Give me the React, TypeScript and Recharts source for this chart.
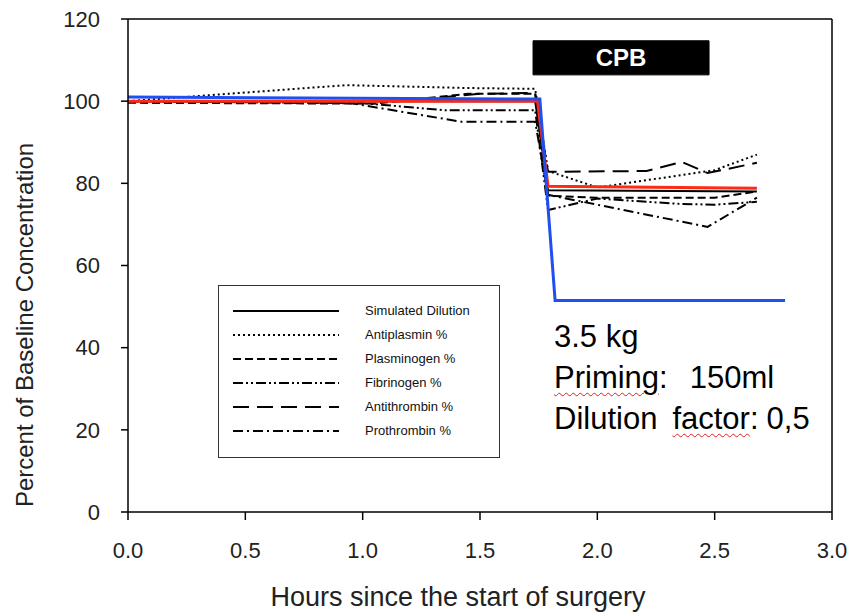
import { LineChart, Line, XAxis, YAxis, ReferenceLine, ReferenceArea } from "recharts";

// Plasma protein levels vs simulated dilution around cardiopulmonary bypass.
// Values: [hours, percent of baseline].
const xTicks = [0, 0.5, 1, 1.5, 2, 2.5, 3];
const yTicks = [0, 20, 40, 60, 80, 100, 120];

const simulatedDilution = [[0, 100], [1.735, 100], [1.79, 78.3], [2.68, 78]];
const antiplasmin = [[0, 100], [0.93, 103.9], [1.45, 103.2], [1.735, 103], [1.79, 83], [2.0, 79], [2.5, 83.2], [2.68, 87]];
const plasminogen = [[0, 99.6], [1.05, 99.4], [1.45, 101.8], [1.735, 101.8], [1.79, 77], [2.0, 76.5], [2.5, 76.5], [2.68, 78]];
const fibrinogen = [[0, 100], [1.0, 99.5], [1.35, 97.8], [1.735, 97.8], [1.79, 73.5], [2.0, 76.3], [2.35, 75], [2.5, 74.8], [2.68, 75.5]];
const antithrombin = [[0, 100], [1.15, 100], [1.5, 101.8], [1.735, 102], [1.79, 82.8], [2.21, 83], [2.36, 85.2], [2.47, 82.5], [2.68, 85]];
const prothrombin = [[0, 100], [0.95, 99.5], [1.42, 95], [1.735, 95], [1.79, 77.2], [2.47, 69.4], [2.68, 76.5]];
const measuredMean = [[0, 100], [1.745, 100], [1.79, 79.3], [2.68, 78.8]];
const modelDilution = [[0, 101], [1.755, 100.5], [1.82, 51.5], [2.8, 51.5]];

const cpbWindow = { x1: 1.726, x2: 2.476, y1: 106.4, y2: 114.7 };

const toRows = (pts: number[][]) => pts.map(([t, v]) => ({ t, v }));

const FONT = "'Liberation Sans', Arial, sans-serif";

const blackSeries = [
  { name: "Simulated Dilution", pts: simulatedDilution, dash: undefined },
  { name: "Antiplasmin %", pts: antiplasmin, dash: "2 3" },
  { name: "Plasminogen %", pts: plasminogen, dash: "8 4" },
  { name: "Fibrinogen %", pts: fibrinogen, dash: "10 3 2 3 2 3" },
  { name: "Antithrombin %", pts: antithrombin, dash: "16 8" },
  { name: "Prothrombin %", pts: prothrombin, dash: "10 4 2 4" },
];

function LegendBox() {
  return (
    <div
      style={{
        position: "absolute",
        left: 218,
        top: 285,
        width: 282,
        height: 173,
        border: "1.5px solid #333",
        boxSizing: "border-box",
        background: "#fff",
        fontFamily: FONT,
        fontSize: 13,
        color: "#111",
      }}
    >
      {blackSeries.map((s, i) => (
        <div key={s.name} style={{ position: "absolute", left: 0, top: 17 + i * 24, height: 16, width: 280 }}>
          <svg width={120} height={16} style={{ position: "absolute", left: 12, top: 0 }}>
            <line x1={2} y1={8} x2={108} y2={8} stroke="#000" strokeWidth={2} strokeDasharray={s.dash} />
          </svg>
          <span style={{ position: "absolute", left: 146, top: 0, lineHeight: "16px", whiteSpace: "nowrap" }}>
            {s.name}
          </span>
        </div>
      ))}
    </div>
  );
}

const squiggle = { textDecoration: "underline wavy #e02020", textDecorationThickness: "1px", textUnderlineOffset: "4px" };

export default function App() {
  return (
    <div style={{ position: "absolute", left: 0, top: 0, width: 849, height: 615, background: "#fff" }}>
      <LineChart
        width={849}
        height={615}
        margin={{ top: 19, right: 17, left: 0, bottom: 0 }}
        style={{ fontFamily: FONT }}
      >
        <XAxis
          type="number"
          dataKey="t"
          domain={[0, 3]}
          ticks={xTicks}
          tickFormatter={(v: number) => v.toFixed(1)}
          height={103}
          tickSize={8}
          tickMargin={22}
          axisLine={{ stroke: "#000", strokeWidth: 1.5 }}
          tickLine={{ stroke: "#000", strokeWidth: 1.5 }}
          tick={{ fill: "#222", fontSize: 22 }}
          allowDuplicatedCategory={false}
        />
        <YAxis
          type="number"
          domain={[0, 120]}
          ticks={yTicks}
          width={128}
          tickSize={7}
          tickMargin={21}
          axisLine={{ stroke: "#000", strokeWidth: 1.5 }}
          tickLine={{ stroke: "#000", strokeWidth: 1.5 }}
          tick={{ fill: "#222", fontSize: 22 }}
        />
        <ReferenceLine y={120} stroke="#000" strokeWidth={1.5} ifOverflow="visible" />
        <ReferenceLine x={3} stroke="#000" strokeWidth={1.5} ifOverflow="visible" />
        <ReferenceArea
          {...cpbWindow}
          fill="#000"
          fillOpacity={1}
          stroke="#000"
          ifOverflow="visible"
          label={{ value: "CPB", fill: "#fff", fontSize: 24, fontWeight: 700, position: "center" }}
        />
        {blackSeries.map((s) => (
          <Line
            key={s.name}
            data={toRows(s.pts)}
            dataKey="v"
            type="linear"
            stroke="#000"
            strokeWidth={2}
            strokeDasharray={s.dash}
            dot={false}
            isAnimationActive={false}
          />
        ))}
        <Line data={toRows(measuredMean)} dataKey="v" type="linear" stroke="#ff2a14" strokeWidth={3} dot={false} isAnimationActive={false} />
        <Line data={toRows(modelDilution)} dataKey="v" type="linear" stroke="#1f4ff0" strokeWidth={3} dot={false} isAnimationActive={false} />
      </LineChart>

      <LegendBox />

      <div
        style={{
          position: "absolute",
          left: 554,
          top: 316,
          fontFamily: FONT,
          fontSize: 31,
          lineHeight: "41px",
          color: "#000",
          whiteSpace: "pre",
        }}
      >
        <div>3.5 kg</div>
        <div>
          <span style={squiggle}>Priming</span>:<span style={{ marginLeft: 22 }}>150ml</span>
        </div>
        <div>
          Dilution<span style={{ marginLeft: 15, ...squiggle }}>factor</span>:<span style={{ marginLeft: 8 }}>0,5</span>
        </div>
      </div>

      <div
        style={{
          position: "absolute",
          left: 158,
          top: 582,
          width: 600,
          textAlign: "center",
          fontFamily: FONT,
          fontSize: 27,
          color: "#222",
          whiteSpace: "nowrap",
        }}
      >
        Hours since the start of surgery
      </div>

      <div
        style={{
          position: "absolute",
          left: 25,
          top: 325,
          transform: "translate(-50%, -50%) rotate(-90deg)",
          fontFamily: FONT,
          fontSize: 24,
          color: "#222",
          whiteSpace: "nowrap",
        }}
      >
        Percent of Baseline Concentration
      </div>
    </div>
  );
}
